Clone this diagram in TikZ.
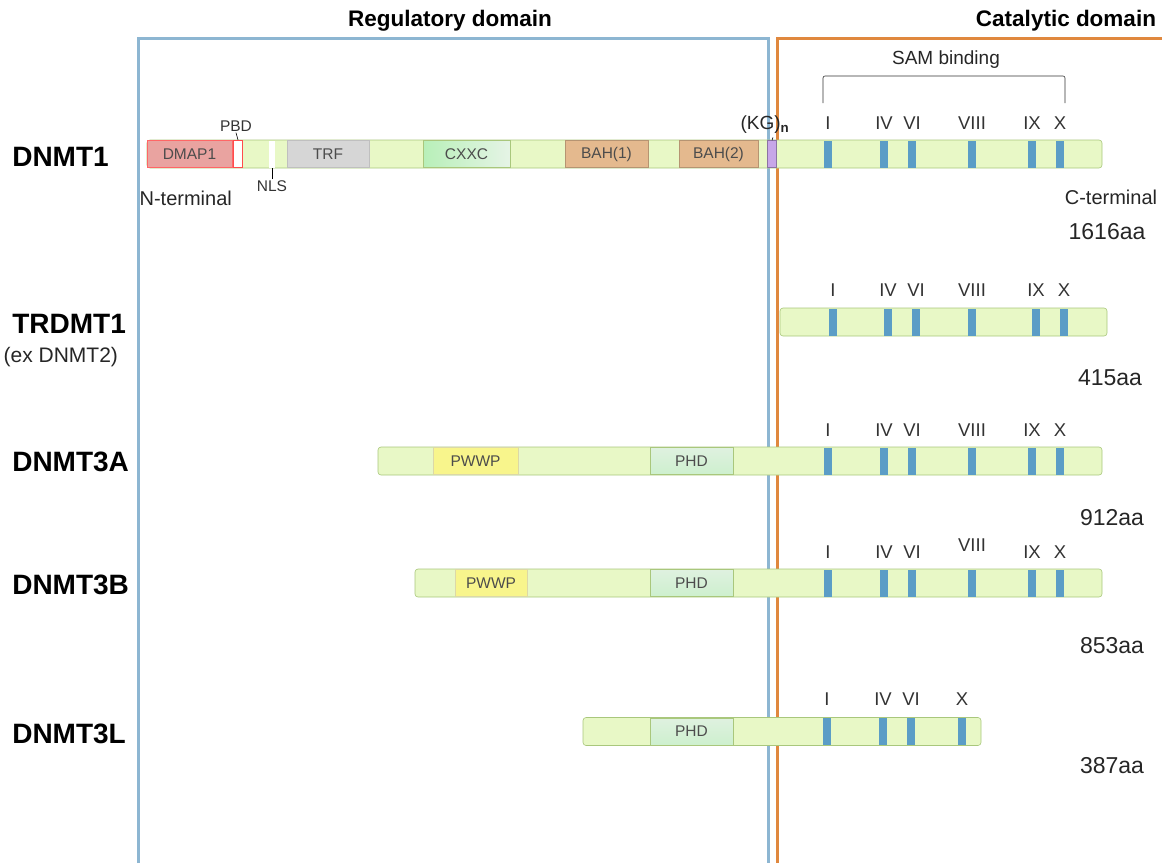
\documentclass[tikz,border=0pt]{standalone}
\usepackage{fontspec}
\setmainfont{Liberation Sans}
\usetikzlibrary{positioning}

\definecolor{bargreen}{HTML}{E8F8C6}
\definecolor{barline}{HTML}{A9C77C}
\definecolor{motifblue}{HTML}{5B9DC6}
\definecolor{regblue}{HTML}{8DB6D2}
\definecolor{catorange}{HTML}{E0883E}
\definecolor{dmapred}{HTML}{E9A3A0}
\definecolor{trfgray}{HTML}{D6D6D6}
\definecolor{cxxcgreen}{HTML}{BFE3C0}
\definecolor{bahtan}{HTML}{E4B98E}
\definecolor{pwwpyellow}{HTML}{F8F58C}
\definecolor{kgpurple}{HTML}{C7A6E8}

\begin{document}
\begin{tikzpicture}[x=1pt,y=-1pt,semithick]
  \tikzstyle{bar}=[draw=barline, fill=bargreen, rounded corners=3pt, minimum height=28pt, inner sep=0pt]
  \tikzstyle{dom}=[minimum height=27pt, inner sep=0pt, font=\fontsize{15.5}{16}\selectfont, text=black!70]
  \tikzstyle{motif}=[fill=motifblue, minimum width=8pt, minimum height=27pt, inner sep=0pt]
  \tikzstyle{mlabel}=[font=\fontsize{18.5}{19}\selectfont, text=black!80, inner sep=0pt]
  \tikzstyle{pname}=[font=\bfseries\fontsize{28}{30}\selectfont, anchor=west, inner sep=0pt]
  \tikzstyle{plen}=[font=\fontsize{23}{24}\selectfont, text=black!85]
  \tikzstyle{term}=[font=\fontsize{20}{21}\selectfont, text=black!85]
  \tikzstyle{small}=[font=\fontsize{15.5}{16}\selectfont, text=black!80, inner sep=1pt]
  \tikzstyle{title}=[font=\bfseries\fontsize{22.5}{23}\selectfont]

  \useasboundingbox (0,0) rectangle (1162,863);

  % domain frames
  \draw[regblue, line width=3pt] (138,863) -- (138,38) -- (768,38) -- (768,863);
  \draw[catorange, line width=3pt] (777,863) -- (777,38) -- (1162,38);
  \node[title] (reg) at (450,21) {Regulatory domain};
  \node[title] (cat) at (1066,21) {Catalytic domain};

  % DNMT1
  \node[pname] (n1) at (12,157) {DNMT1};
  \node[bar, minimum width=955pt] (b1) at (624.5,154) {};
  \node[dom, draw=red!60, fill=dmapred, minimum width=85pt] (dmap) at (189.5,154) {DMAP1};
  \node[dom, draw=red!70, line width=1.2pt, fill=white, minimum width=9pt] (pbd) at (238,154) {};
  \node[dom, fill=white, minimum width=6pt] (nls) at (272,154) {};
  \node[dom, draw=black!25, fill=trfgray, minimum width=82pt] (trf) at (328,154) {TRF};
  \node[dom, draw=barline, left color=cxxcgreen!80!green!70, right color=cxxcgreen!40, minimum width=87pt] (cxxc) at (466.5,154) {CXXC};
  \node[dom, draw=bahtan!80!black, fill=bahtan, minimum width=83pt] (bah1) at (606.5,154) {BAH(1)};
  \node[dom, draw=bahtan!80!black, fill=bahtan, minimum width=79pt] (bah2) at (718.5,154) {BAH(2)};
  \node[dom, draw=kgpurple!70!black, fill=kgpurple, minimum width=9pt] (kg) at (772,154) {};
  \node[small] (pbdl) at (236,126) {PBD};
  \node[small] (nlsl) at (272,186) {NLS};
  \node[font=\fontsize{19}{19}\selectfont, text=black!85] (kgl) at (765,125) {(KG)$_{\mathbf n}$};
  \draw (pbdl.south) -- (pbd.north);
  \draw (nlsl.north) -- (nls.south);
  \draw (kgl.south east) ++(-20,0) coordinate (kgtop) -- (kg.north);
  \foreach \x/\l in {828/I,884/IV,912/VI,972/VIII,1032/IX,1060/X} {
    \node[motif] (a\l) at (\x,154) {};
    \node[mlabel, above=10pt of a\l] (al\l) {\l};
  }
  \node[term, anchor=west] (nterm) at (136,198) {N-terminal};
  \node[term] (cterm) at (1111,197) {C-terminal};
  \node[plen] (len1) at (1107,232) {1616aa};

  % SAM binding bracket
  \coordinate (s1) at (823,103);
  \coordinate (s2) at (1065,103);
  \draw[black!80, rounded corners=2pt] (s1) -- ++(0,-27) -- ([yshift=27pt]s2) -- (s2);
  \node[font=\fontsize{19}{19}\selectfont, text=black!85] (sam) at (946,60) {SAM binding};

  % TRDMT1
  \node[pname] (n2) at (12,324) {TRDMT1};
  \node[term, anchor=west, font=\fontsize{21}{22}\selectfont] (n2b) at (0,357) {(ex DNMT2)};
  \node[bar, minimum width=327pt] (b2) at (943.5,322) {};
  \foreach \x/\l in {833/I,888/IV,916/VI,972/VIII,1036/IX,1064/X} {
    \node[motif] (t\l) at (\x,322) {};
    \node[mlabel, above=11pt of t\l] (tl\l) {\l};
  }
  \node[plen] (len2) at (1110,378) {415aa};

  % DNMT3A
  \node[pname] (n3) at (12,462) {DNMT3A};
  \node[bar, minimum width=724pt] (b3) at (740,461) {};
  \node[dom, draw=yellow!60!black!40, fill=pwwpyellow, minimum width=85pt] (pwwpa) at (475.5,461) {PWWP};
  \node[dom, draw=barline, top color=cxxcgreen!50, bottom color=cxxcgreen!90!green!60, minimum width=83pt] (phda) at (691.5,461) {PHD};
  \foreach \x/\l in {828/I,884/IV,912/VI,972/VIII,1032/IX,1060/X} {
    \node[motif] (c\l) at (\x,461) {};
    \node[mlabel, above=10pt of c\l] (cl\l) {\l};
  }
  \node[plen] (len3) at (1112,518) {912aa};

  % DNMT3B
  \node[pname] (n4) at (12,585) {DNMT3B};
  \node[bar, minimum width=687pt] (b4) at (758.5,583) {};
  \node[dom, draw=yellow!60!black!40, fill=pwwpyellow, minimum width=72pt] (pwwpb) at (491,583) {PWWP};
  \node[dom, draw=barline, top color=cxxcgreen!50, bottom color=cxxcgreen!90!green!60, minimum width=83pt] (phdb) at (691.5,583) {PHD};
  \foreach \x/\l in {828/I,884/IV,912/VI,1032/IX,1060/X} {
    \node[motif] (d\l) at (\x,583) {};
    \node[mlabel, above=10pt of d\l] (dl\l) {\l};
  }
  \node[motif] (dVIII) at (972,583) {};
  \node[mlabel, above=17pt of dVIII] (dlVIII) {VIII};
  \node[plen] (len4) at (1112,646) {853aa};

  % DNMT3L
  \node[pname] (n5) at (12,734) {DNMT3L};
  \node[bar, minimum width=398pt] (b5) at (782,731.5) {};
  \node[dom, draw=barline, top color=cxxcgreen!50, bottom color=cxxcgreen!90!green!60, minimum width=83pt] (phdl) at (691.5,731.5) {PHD};
  \foreach \x/\l in {827/I,883/IV,911/VI,962/X} {
    \node[motif] (e\l) at (\x,731.5) {};
    \node[mlabel, above=12pt of e\l] (el\l) {\l};
  }
  \node[plen] (len5) at (1112,766) {387aa};
\end{tikzpicture}
\end{document}
